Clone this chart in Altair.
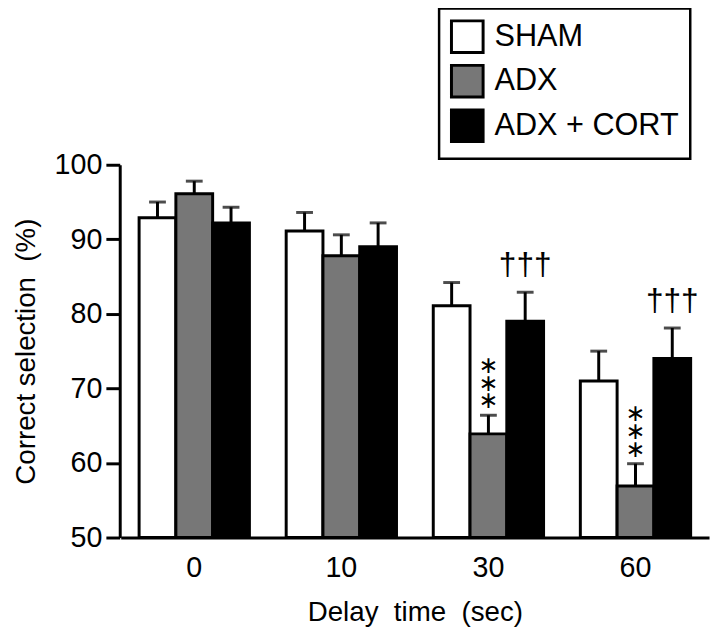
import altair as alt
import pandas as pd

delays = ["0", "10", "30", "60"]
groups = ["SHAM", "ADX", "ADX + CORT"]
colors = ["#ffffff", "#777777", "#000000"]

sham_mean = [92.9, 91.1, 81.1, 71.0]
sham_err = [2.1, 2.5, 3.1, 4.0]
adx_mean = [96.1, 87.8, 63.9, 56.9]
adx_err = [1.7, 2.8, 2.5, 3.0]
cort_mean = [92.2, 89.0, 79.0, 74.0]
cort_err = [2.1, 3.2, 3.9, 4.1]

adx_sig = ["", "", "∗", "∗"]          # drawn three times, stacked (***)
cort_sig = ["", "", "†††", "†††"]

rows = []
for g, means, errs, sigs in [
    ("SHAM", sham_mean, sham_err, ["", "", "", ""]),
    ("ADX", adx_mean, adx_err, adx_sig),
    ("ADX + CORT", cort_mean, cort_err, cort_sig),
]:
    for d, m, e, s in zip(delays, means, errs, sigs):
        rows.append({"delay": d, "group": g, "mean": m, "top": m + e, "sig": s})
df = pd.DataFrame(rows)

FONT = "Liberation Sans"
NB = "\u00a0"

x = alt.X("delay:N", sort=delays,
          scale=alt.Scale(paddingInner=0.25, paddingOuter=0.125),
          axis=alt.Axis(title=f"Delay{NB} time{NB} (sec)", labelAngle=0, ticks=False,
                        labelFontSize=29, labelPadding=16, titleFontSize=28,
                        titlePadding=17, domainWidth=3, domainColor="black",
                        labelColor="black", titleColor="black",
                        labelFont=FONT, titleFont=FONT, titleFontWeight="normal"))
xo = alt.XOffset("group:N", sort=groups, scale=alt.Scale(domain=groups, paddingInner=0, paddingOuter=0))
yscale = alt.Scale(domain=[50, 100], nice=False)

base = alt.Chart(df)

bars = base.mark_bar(stroke="black", strokeWidth=3).encode(
    x=x,
    xOffset=xo,
    y=alt.Y("mean:Q", scale=yscale,
            axis=alt.Axis(title=f"Correct selection{NB} (%)", values=[50, 60, 70, 80, 90, 100],
                          grid=False, tickSize=14, tickWidth=3, tickColor="black",
                          domainWidth=3, domainColor="black", labelFontSize=29,
                          labelPadding=4, titleFontSize=28, titlePadding=14,
                          labelColor="black", titleColor="black", offset=1,
                          labelFont=FONT, titleFont=FONT, titleFontWeight="normal")),
    y2=alt.datum(50),
    fill=alt.Fill("group:N", sort=groups,
                  scale=alt.Scale(domain=groups, range=colors),
                  legend=alt.Legend(title=None, orient="none", legendX=322, legendY=-158,
                                    symbolType="square", symbolSize=1024,
                                    symbolStrokeColor="black", symbolStrokeWidth=3,
                                    labelFontSize=31, labelFont=FONT, labelColor="black",
                                    labelOffset=10, rowPadding=0, padding=11, labelLimit=0,
                                    strokeColor="black", symbolOpacity=1)),
)

err = base.mark_rule(strokeWidth=3, color="black").encode(
    x=x, xOffset=xo, y=alt.Y("mean:Q", scale=yscale), y2="top:Q"
)
cap = base.mark_tick(size=17, thickness=3, color="black").encode(
    x=x, xOffset=xo, y=alt.Y("top:Q", scale=yscale)
)

star_layers = []
for off in [-14, -32, -50]:
    star_layers.append(
        base.mark_text(baseline="middle", dy=off, fontSize=24, font="DejaVu Sans",
                       color="black").encode(
            x=x, xOffset=xo, y=alt.Y("top:Q", scale=yscale), text="sig:N"
        ).transform_filter(alt.datum.group == "ADX")
    )

daggers = base.mark_text(baseline="middle", dy=-27, fontSize=32, font=FONT,
                         color="black").encode(
    x=x, xOffset=xo, y=alt.Y("top:Q", scale=yscale), text="sig:N"
).transform_filter(alt.datum.group == "ADX + CORT")

chart = alt.layer(err, bars, cap, *star_layers, daggers).properties(
    width=595, height=377,
    autosize=alt.AutoSizeParams(type="none"),
    padding={"left": 114, "top": 155, "right": 3, "bottom": 90},
).configure_view(stroke=None).configure_legend(strokeWidth=2.5)

chart.save("out.html", embed_options={"renderer": "svg", "actions": False})
